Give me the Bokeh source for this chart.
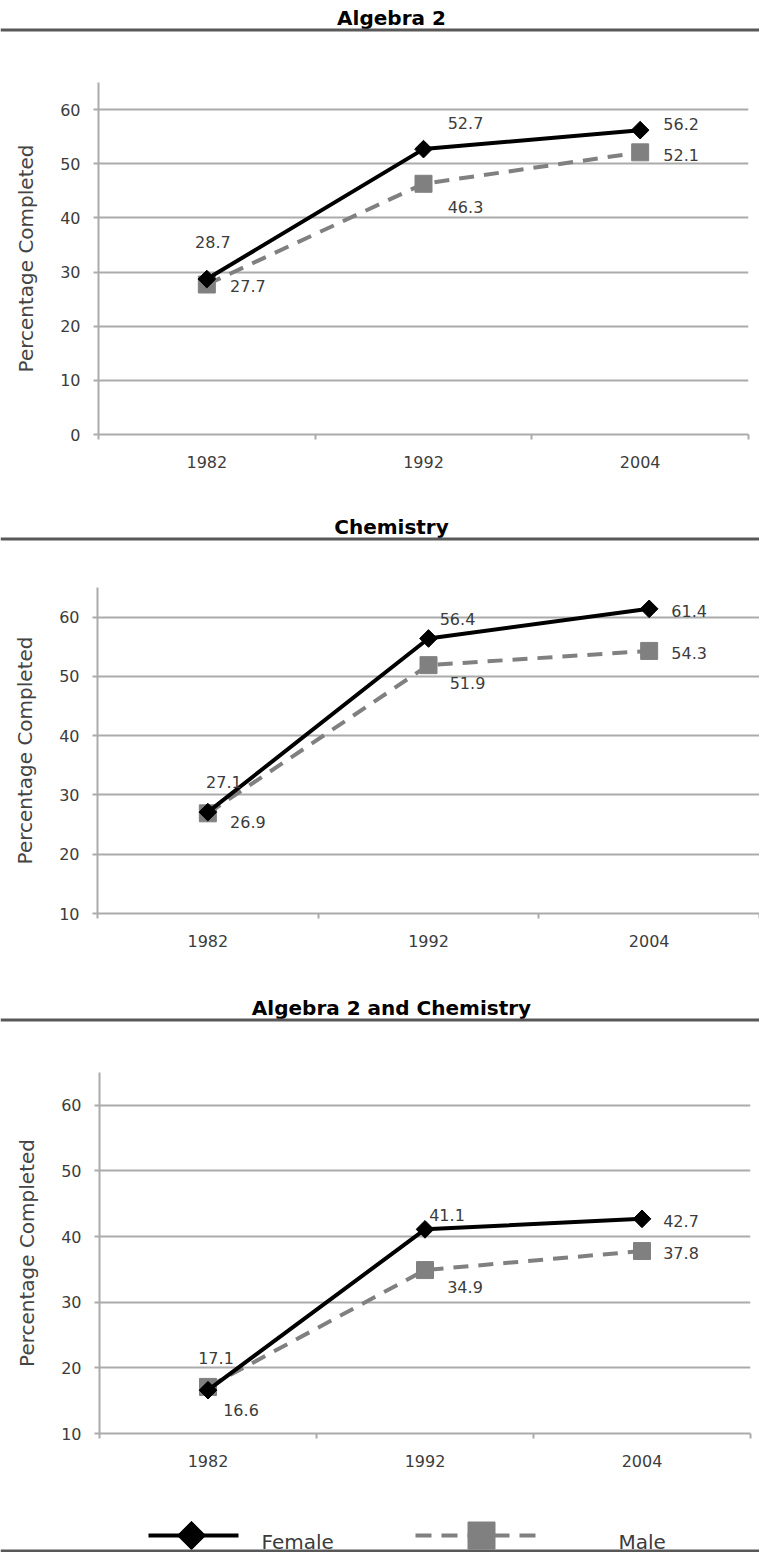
import math
from bokeh.plotting import figure
from bokeh.models import ColumnDataSource, Range1d, FixedTicker, LabelSet, Label, Span
from bokeh.layouts import column
from bokeh.embed import file_html
from bokeh.resources import INLINE
from bokeh.core.properties import value

# ---------------- data ----------------
years = ["1982", "1992", "2004"]
titles = ["Algebra 2", "Chemistry", "Algebra 2 and Chemistry"]
female_alg2 = [28.7, 52.7, 56.2]
male_alg2 = [27.7, 46.3, 52.1]
female_chem = [27.1, 56.4, 61.4]
male_chem = [26.9, 51.9, 54.3]
female_both = [16.6, 41.1, 42.7]
male_both = [17.1, 34.9, 37.8]
y_ticks_alg2 = [0, 10, 20, 30, 40, 50, 60]
y_ticks_chem = [10, 20, 30, 40, 50, 60]
y_ticks_both = [10, 20, 30, 40, 50, 60]
y_label = "Percentage Completed"
series_names = ["Female", "Male"]

# ---------------- style ----------------
FONT = "DejaVu Sans"
W = 759
Y_MAX = 65
FEMALE_COLOR = "#000000"
MALE_COLOR = "#808080"
GRID = "#ababab"
TEXT = "#3c3c3c"
RULE = "#585858"
DASH = "15 10"


def header(title, height):
    h = figure(width=W, height=height, x_range=Range1d(0, W), y_range=Range1d(0, height),
               x_axis_type=None, y_axis_type=None, toolbar_location=None,
               output_backend="svg", min_border=0, outline_line_color=None,
               frame_align=False)
    h.add_layout(Label(x=391, y=17, text=title, text_align="center",
                       text_baseline="middle", text_font=FONT,
                       text_font_size="20px", text_font_style="bold",
                       text_color="#000000"))
    h.add_layout(Span(location=4.5, dimension="width", line_color=RULE, line_width=3))
    return h


def panel(female, male, yticks, ystart, height, borders, f_off, m_off):
    top, bottom, left, right = borders
    xs = [i + 0.5 for i in range(len(years))]
    p = figure(width=W, height=height, x_range=Range1d(0, len(years)),
               y_range=Range1d(ystart, Y_MAX), toolbar_location=None,
               output_backend="svg", min_border_top=top, min_border_bottom=bottom,
               min_border_left=left, min_border_right=right,
               outline_line_color=None, frame_align=False)
    src_f = ColumnDataSource(dict(x=xs, y=female, t=[f"{v:.1f}" for v in female],
                                  dx=[o[0] for o in f_off], dy=[o[1] for o in f_off]))
    src_m = ColumnDataSource(dict(x=xs, y=male, t=[f"{v:.1f}" for v in male],
                                  dx=[o[0] for o in m_off], dy=[o[1] for o in m_off]))
    p.line("x", "y", source=src_m, line_color=MALE_COLOR, line_width=4, line_dash=DASH)
    p.scatter("x", "y", source=src_m, marker="square", size=17,
              fill_color=MALE_COLOR, line_color=MALE_COLOR)
    p.line("x", "y", source=src_f, line_color=FEMALE_COLOR, line_width=4)
    p.scatter("x", "y", source=src_f, marker="square", angle=math.pi / 4, size=12.5,
              fill_color=FEMALE_COLOR, line_color=FEMALE_COLOR)
    for s in (src_f, src_m):
        p.add_layout(LabelSet(x="x", y="y", text="t", source=s, x_offset="dx", y_offset="dy",
                              text_align="center", text_baseline="middle",
                              text_font=value(FONT), text_font_size="16px",
                              text_color=TEXT))
    # axes
    p.xgrid.visible = False
    p.ygrid.grid_line_color = GRID
    p.ygrid.grid_line_width = 2
    p.yaxis.ticker = FixedTicker(ticks=yticks)
    p.xaxis.ticker = FixedTicker(ticks=xs, minor_ticks=list(range(len(years) + 1)))
    p.xaxis.major_label_overrides = {x: yr for x, yr in zip(xs, years)}
    for ax in (p.xaxis[0], p.yaxis[0]):
        ax.axis_line_color = GRID
        ax.axis_line_width = 2
        ax.major_label_text_font = FONT
        ax.major_label_text_font_size = "16px"
        ax.major_label_text_color = TEXT
    p.yaxis.major_tick_out = 5
    p.yaxis.major_tick_in = 0
    p.yaxis.major_tick_line_color = GRID
    p.yaxis.major_tick_line_width = 2
    p.yaxis.minor_tick_line_color = None
    p.yaxis.major_label_standoff = 13
    p.yaxis.axis_label = y_label
    p.yaxis.axis_label_text_font = FONT
    p.yaxis.axis_label_text_font_size = "20px"
    p.yaxis.axis_label_text_font_style = "normal"
    p.yaxis.axis_label_text_color = "#444444"
    p.yaxis.axis_label_standoff = 19
    p.xaxis.major_tick_out = 0
    p.xaxis.major_tick_in = 0
    p.xaxis.major_tick_line_color = None
    p.xaxis.minor_tick_out = 5
    p.xaxis.minor_tick_in = 0
    p.xaxis.minor_tick_line_color = GRID
    p.xaxis.minor_tick_line_width = 2
    p.xaxis.major_label_standoff = 16
    return p


def legend_fig():
    lg = figure(width=W, height=62, x_range=Range1d(0, W), y_range=Range1d(0, 62),
                x_axis_type=None, y_axis_type=None, toolbar_location=None,
                output_backend="svg", min_border=0, outline_line_color=None,
                frame_align=False)
    # Female key
    lg.line([148, 238], [17, 17], line_color=FEMALE_COLOR, line_width=4)
    lg.scatter([191], [17], marker="square", angle=math.pi / 4, size=20,
               fill_color=FEMALE_COLOR, line_color=FEMALE_COLOR)
    lg.add_layout(Label(x=261, y=11, text=series_names[0], text_font=FONT,
                        text_font_size="20px", text_color=TEXT, text_baseline="middle"))
    # Male key
    lg.line([415, 535], [17, 17], line_color=MALE_COLOR, line_width=4, line_dash="16 10")
    lg.scatter([481], [17], marker="square", size=27,
               fill_color=MALE_COLOR, line_color=MALE_COLOR)
    lg.add_layout(Label(x=618, y=11, text=series_names[1], text_font=FONT,
                        text_font_size="20px", text_color=TEXT, text_baseline="middle"))
    lg.add_layout(Span(location=1.5, dimension="width", line_color=RULE, line_width=3))
    return lg


p1 = panel(female_alg2, male_alg2, y_ticks_alg2, 0, 479, (48, 79, 98, 11),
           [(6, 37), (42, 26), (41, 6)], [(41, -2), (42, -23), (41, -3)])
p2 = panel(female_chem, male_chem, y_ticks_chem, 10, 451, (44, 81, 97, 0),
           [(16, 30), (29, 19), (40, -2)], [(40, -9), (39, -18), (40, -2)])
p3 = panel(female_both, male_both, y_ticks_both, 10, 466, (48, 57, 99, 9),
           [(33, -20), (22, 14), (39, -2)], [(8, 29), (40, -17), (39, -2)])

layout = column(header(titles[0], 34), p1, header(titles[1], 30), p2,
                header(titles[2], 30), p3, legend_fig(), spacing=0)

open("out.html", "w").write(file_html(layout, INLINE))
